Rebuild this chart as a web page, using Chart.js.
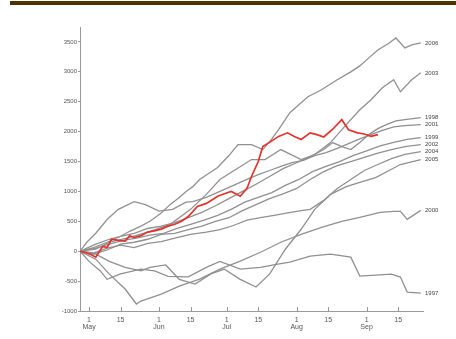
<!DOCTYPE html>
<html>
<head>
<meta charset="utf-8">
<script src="https://cdn.jsdelivr.net/npm/chart.js@4"></script>
<style>
  html, body { margin: 0; padding: 0; background: #fff; }
  #wrap { position: relative; width: 456px; height: 339px; }
  #bar { position: absolute; left: 10px; top: 1px; width: 446px; height: 4px; background: #4b3400; }
  canvas { position: absolute; left: 0; top: 0; }
</style>
</head>
<body>
<div id="wrap">
  <canvas id="chart" width="456" height="339"></canvas>
  <div id="bar"></div>
</div>
<script>
// ======================
// data (x = days from May 1, y = cumulative value)
// ======================
const tickDays = [0, 14, 31, 45, 61, 75, 92, 106, 123, 137];
const tickNames = [["1", "May"], "15", ["1", "Jun"], "15", ["1", "Jul"], "15", ["1", "Aug"], "15", ["1", "Sep"], "15"];
const yTicks = [-1000, -500, 0, 500, 1000, 1500, 2000, 2500, 3000, 3500];

// 2007 (red, current year)
const days2007 = [-4, -1, 1, 3, 6, 8, 10, 13, 16, 18, 20, 23, 26, 29, 32, 35, 38, 41, 44, 48, 52, 55, 57, 60, 63, 65, 67, 70, 72, 75, 77, 80, 84, 88, 91, 94, 98, 101, 104, 108, 112, 115, 119, 122, 125, 128];
const vals2007 = [0, -30, -60, -100, 80, 60, 200, 180, 170, 260, 230, 260, 320, 340, 370, 420, 450, 500, 580, 750, 800, 870, 920, 960, 1000, 960, 920, 1050, 1250, 1500, 1750, 1820, 1920, 1980, 1920, 1870, 1980, 1950, 1910, 2040, 2200, 2030, 1980, 1960, 1920, 1950];

const years = ["2006", "2003", "1998", "2001", "1999", "2002", "2004", "2005", "2000", "1997"];

const days2006 = [-4, 3, 9, 14, 18, 23, 27, 32, 36, 40, 43, 46, 49, 53, 57, 62, 66, 72, 77, 81, 84, 89, 93, 97, 103, 110, 116, 120, 123, 128, 133, 136, 140, 143, 147];
const vals2006 = [0, 117, 200, 250, 333, 420, 500, 640, 783, 900, 1000, 1080, 1200, 1300, 1400, 1600, 1783, 1783, 1700, 1880, 2033, 2317, 2450, 2583, 2700, 2867, 3000, 3100, 3200, 3367, 3483, 3567, 3400, 3450, 3483];

const days2003 = [-4, 3, 9, 18, 27, 36, 45, 52, 58, 65, 72, 78, 85, 94, 100, 107, 114, 120, 125, 130, 135, 138, 143, 147];
const vals2003 = [0, 33, 150, 233, 333, 450, 700, 950, 1200, 1367, 1533, 1533, 1700, 1533, 1617, 1817, 2117, 2367, 2533, 2733, 2867, 2667, 2867, 2983];

const days1998 = [-4, 2, 8, 14, 20, 26, 32, 38, 44, 50, 56, 62, 68, 74, 80, 86, 92, 98, 104, 108, 112, 116, 120, 124, 128, 132, 136, 140, 147];
const vals1998 = [0, 60, 150, 250, 300, 380, 420, 480, 560, 650, 760, 880, 1000, 1120, 1250, 1380, 1480, 1580, 1700, 1817, 1750, 1700, 1820, 1950, 2050, 2120, 2180, 2200, 2233];

const days2001 = [-4, -1, 3, 8, 13, 20, 25, 31, 37, 43, 46, 52, 58, 64, 70, 75, 80, 85, 90, 95, 100, 105, 110, 115, 120, 125, 130, 135, 140, 147];
const vals2001 = [0, 150, 300, 530, 700, 830, 780, 670, 700, 820, 830, 900, 1000, 1100, 1200, 1280, 1350, 1420, 1480, 1520, 1600, 1650, 1720, 1800, 1880, 1950, 2020, 2080, 2100, 2117];

const days1999 = [-4, 3, 9, 15, 21, 27, 33, 39, 45, 51, 57, 63, 69, 75, 81, 87, 93, 99, 105, 111, 117, 123, 129, 135, 141, 147];
const vals1999 = [0, 50, 120, 180, 220, 270, 300, 380, 450, 520, 600, 700, 820, 900, 980, 1100, 1200, 1330, 1420, 1500, 1600, 1680, 1760, 1820, 1870, 1900];

const days2002 = [-4, 2, 8, 14, 20, 26, 32, 38, 44, 50, 56, 62, 68, 74, 80, 86, 92, 98, 104, 110, 116, 122, 128, 134, 140, 147];
const vals2002 = [0, -50, 20, 120, 150, 200, 280, 300, 360, 420, 500, 560, 680, 780, 880, 960, 1050, 1200, 1330, 1430, 1500, 1570, 1640, 1700, 1750, 1783];

const days2004 = [-4, 2, 8, 14, 20, 26, 32, 38, 45, 52, 58, 64, 70, 76, 82, 88, 94, 98, 104, 110, 116, 122, 128, 134, 140, 147];
const vals2004 = [0, -30, 50, 100, 60, 130, 160, 220, 280, 320, 360, 430, 520, 560, 600, 640, 680, 700, 850, 1050, 1200, 1350, 1450, 1550, 1620, 1667];

const days2005 = [-4, 3, 9, 16, 23, 27, 34, 40, 47, 54, 60, 67, 74, 80, 87, 94, 100, 107, 114, 120, 127, 134, 138, 147];
const vals2005 = [0, -50, -170, -270, -330, -270, -230, -470, -550, -380, -300, -470, -600, -383, 33, 367, 700, 950, 1080, 1150, 1230, 1370, 1450, 1533];

const days2000 = [-4, 3, 9, 16, 21, 23, 32, 40, 49, 58, 67, 76, 85, 94, 103, 112, 120, 129, 135, 138, 141, 147];
const vals2000 = [0, -133, -383, -633, -883, -833, -717, -583, -467, -300, -167, -17, 150, 283, 400, 500, 567, 650, 667, 667, 533, 683];

const days1997 = [-4, 0, 5, 8, 14, 23, 29, 35, 44, 52, 58, 67, 76, 83, 89, 98, 107, 116, 120, 127, 134, 138, 141, 147];
const vals1997 = [0, -170, -330, -470, -380, -300, -330, -420, -430, -270, -170, -300, -270, -220, -183, -83, -50, -100, -417, -400, -383, -433, -683, -700];

const grayDays = [days2006, days2003, days1998, days2001, days1999, days2002, days2004, days2005, days2000, days1997];
const grayVals = [vals2006, vals2003, vals1998, vals2001, vals1999, vals2002, vals2004, vals2005, vals2000, vals1997];

// ======================
// datasets
// ======================
function toPoints(days, vals) {
  return days.map((d, i) => ({ x: d, y: vals[i] }));
}

const datasets = [{
  label: "2007",
  data: toPoints(days2007, vals2007),
  borderColor: "#e4312c",
  borderWidth: 1.7,
  pointRadius: 0,
  tension: 0,
  showEndLabel: false
}];

years.forEach((yr, i) => {
  datasets.push({
    label: yr,
    data: toPoints(grayDays[i], grayVals[i]),
    borderColor: "#909090",
    borderWidth: 1.3,
    pointRadius: 0,
    tension: 0,
    showEndLabel: true
  });
});

// ======================
// plugins
// ======================
// x ticks point up into the plot area
const innerTicks = {
  id: "innerTicks",
  afterDraw(chart) {
    const { ctx, scales: { x }, chartArea } = chart;
    ctx.save();
    ctx.strokeStyle = "#999";
    ctx.lineWidth = 1;
    tickDays.forEach(d => {
      const px = Math.round(x.getPixelForValue(d)) + 0.5;
      ctx.beginPath();
      ctx.moveTo(px, chartArea.bottom);
      ctx.lineTo(px, chartArea.bottom - 4);
      ctx.stroke();
    });
    ctx.restore();
  }
};

// year labels at the right end of each gray line
const endLabels = {
  id: "endLabels",
  afterDatasetsDraw(chart) {
    const { ctx, scales: { y }, chartArea } = chart;
    const items = [];
    chart.data.datasets.forEach(ds => {
      if (!ds.showEndLabel) return;
      const last = ds.data[ds.data.length - 1];
      items.push({ text: ds.label, py: y.getPixelForValue(last.y) });
    });
    items.sort((a, b) => a.py - b.py);
    for (let i = 1; i < items.length; i++) {
      if (items[i].py - items[i - 1].py < 6.5) items[i].py = items[i - 1].py + 6.5;
    }
    ctx.save();
    ctx.font = "6px 'Liberation Sans', Arial, sans-serif";
    ctx.fillStyle = "#444";
    ctx.textBaseline = "middle";
    ctx.textAlign = "left";
    items.forEach(it => ctx.fillText(it.text, chartArea.right + 2, it.py));
    ctx.restore();
  }
};

// ======================
// chart
// ======================
new Chart(document.getElementById("chart"), {
  type: "line",
  data: { datasets },
  options: {
    responsive: false,
    animation: false,
    layout: { padding: { top: 27, right: 33, left: 0, bottom: 0 } },
    plugins: { legend: { display: false }, tooltip: { enabled: false } },
    scales: {
      x: {
        type: "linear",
        min: -4,
        max: 148,
        grid: { display: false },
        border: { color: "#9a9a9a", width: 1 },
        afterBuildTicks: s => { s.ticks = tickDays.map(v => ({ value: v })); },
        afterFit: s => { s.height = 28; },
        ticks: {
          autoSkip: false,
          maxRotation: 0,
          padding: -3,
          color: "#555",
          font: { size: 7, family: "'Liberation Sans', Arial, sans-serif", lineHeight: 1.1 },
          callback: v => {
            const i = tickDays.indexOf(v);
            return i >= 0 ? tickNames[i] : "";
          }
        }
      },
      y: {
        min: -1000,
        max: 3750,
        grid: { drawOnChartArea: false, tickLength: 2, color: "#9a9a9a" },
        border: { color: "#9a9a9a", width: 1 },
        afterBuildTicks: s => { s.ticks = yTicks.map(v => ({ value: v })); },
        afterFit: s => { s.width = 80; },
        ticks: {
          padding: 1,
          color: "#555",
          font: { size: 6, family: "'Liberation Sans', Arial, sans-serif" },
          callback: v => String(v)
        }
      }
    }
  },
  plugins: [innerTicks, endLabels]
});
</script>
</body>
</html>
